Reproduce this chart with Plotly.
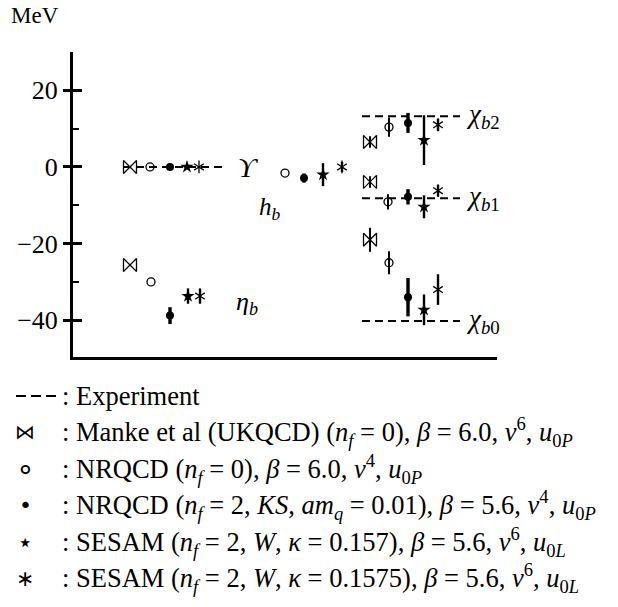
import plotly.graph_objects as go

# ---------------- data (MeV) ----------------
states = ["Upsilon", "eta_b", "h_b", "chi_b2", "chi_b1", "chi_b0"]

# horizontal slot of each point (arbitrary axis units, 0..424)
x_manke = [57, 57, None, 297, 297, 297]
x_nrqcd0 = [77, 78, 212, 316, 315, 316]
x_nrqcd2 = [97, 97, 231, 335, 335, 335]
x_sesam157 = [114, 115, 250, 351, 351, 351]
x_sesam1575 = [126, 127, 269, 365, 365, 365]

manke_y = [0, -25.6, None, 6.5, -3.9, -19.0]
manke_err = [0, 0, None, 1.5, 1.5, 3.1]
nrqcd0_y = [0, -30.0, -1.6, 10.4, -9.1, -25.0]
nrqcd0_err = [0, 0, 0, 2.5, 2.0, 3.0]
nrqcd2_y = [0, -38.8, -2.9, 11.5, -7.8, -34.0]
nrqcd2_err = [0, 2.2, 1.2, 2.6, 2.0, 5.0]
sesam157_y = [0, -33.7, -2.0, 7.0, -10.4, -37.3]
sesam157_err = [0, 2.0, 3.0, 6.5, 3.0, 4.0]
sesam1575_y = [0, -33.7, 0.0, 11.0, -6.2, -32.0]
sesam1575_err = [0, 2.0, 1.3, 1.6, 1.5, 4.0]

exp_names = ["Upsilon", "chi_b2", "chi_b1", "chi_b0"]
exp_y = [0.0, 13.2, -8.2, -40.2]
exp_x0 = [50, 289, 289, 289]
exp_x1 = [152, 387, 387, 387]

y_ticks = [-40, -20, 0, 20]
y_ticktext = ["\u221240", "\u221220", "0", "20"]
y_minor = [-30, -10, 10]

# ---------------- layout helpers ----------------
W, H = 618, 607
ML, MT = 73, 52
PW, PH = 424, 305
YR = [-49.6, 30]
FONT = "Liberation Serif"


def px(xp):
    return (xp - ML) / PW


def py(yp):
    return (MT + PH - yp) / PH


fig = go.Figure()

# experiment dashed lines
for name, v, a, b in zip(exp_names, exp_y, exp_x0, exp_x1):
    fig.add_trace(go.Scatter(x=[a, b], y=[v, v], mode="lines",
                             line=dict(color="black", width=2, dash="8px,5px"),
                             showlegend=False, hoverinfo="skip"))

series = [
    (x_manke, manke_y, manke_err, ["bowtie-open"], 13, 1.3, 2),
    (x_nrqcd0, nrqcd0_y, nrqcd0_err, ["circle-open"], 8, 1.3, 2),
    (x_nrqcd2, nrqcd2_y, nrqcd2_err, ["circle"], 8, 0, 3.4),
    (x_sesam157, sesam157_y, sesam157_err, ["star"], 10, 0, 2.4),
    (x_sesam1575, sesam1575_y, sesam1575_err, ["y-up-open", "y-down-open"], 8, 1.3, 2.4),
]
for xs, ys, es, syms, size, lw, th in series:
    for k, sym in enumerate(syms):
        fig.add_trace(go.Scatter(
            x=xs, y=ys, mode="markers",
            marker=dict(symbol=sym, size=size, color="black",
                        line=dict(color="black", width=lw)),
            error_y=dict(type="data", array=es, color="black", thickness=th, width=0,
                         visible=(k == 0)),
            showlegend=False, hoverinfo="skip"))

# invisible trace for the overlay axis (inside part of major ticks)
fig.add_trace(go.Scatter(x=[0], y=[0], yaxis="y2", mode="markers",
                         marker=dict(opacity=0), showlegend=False, hoverinfo="skip"))

fig.update_layout(
    width=W, height=H,
    margin=dict(l=ML, r=W - ML - PW, t=MT, b=H - MT - PH, pad=0),
    paper_bgcolor="white", plot_bgcolor="white",
    font=dict(family=FONT, color="black", size=22),
    xaxis=dict(range=[0, PW], showgrid=False, zeroline=False, showticklabels=False,
               ticks="", showline=True, linecolor="black", linewidth=3, fixedrange=True),
    yaxis=dict(range=YR, showgrid=False, zeroline=False, showline=True,
               linecolor="black", linewidth=3, tickvals=y_ticks, ticktext=y_ticktext,
               ticks="outside", ticklen=7, tickwidth=3, tickcolor="black",
               tickfont=dict(family=FONT, size=26),
               minor=dict(tickvals=y_minor, ticks="inside", ticklen=6, tickwidth=2,
                          tickcolor="black")),
    yaxis2=dict(range=YR, overlaying="y", showgrid=False, zeroline=False,
                showline=False, showticklabels=False, tickvals=y_ticks,
                ticks="inside", ticklen=9, tickwidth=3, tickcolor="black"),
)

ann = []
ann.append(dict(x=px(9), y=py(16), text="MeV", xanchor="left", yanchor="middle",
                font=dict(size=23)))
# state labels
ann.append(dict(x=px(236), y=py(167), text="<i>\u03d2</i>", xanchor="left", yanchor="middle",
                font=dict(size=28)))
ann.append(dict(x=px(257), y=py(208), text="<i>h</i><sub><i>b</i></sub>", xanchor="left",
                yanchor="middle", font=dict(size=25)))
ann.append(dict(x=px(234), y=py(303), text="<i>\u03b7</i><sub><i>b</i></sub>", xanchor="left",
                yanchor="middle", font=dict(size=26)))
for lab, yp in [("2", 116), ("1", 198), ("0", 321)]:
    ann.append(dict(x=px(464), y=py(yp), text="<i>\u03c7</i><sub><i>b</i>" + lab + "</sub>",
                    xanchor="left", yanchor="middle", font=dict(size=27)))

# legend
nf = "<i>n</i><sub><i>f</i></sub>"
legend_rows = [
    (396, None, ": Experiment"),
    (432, "\u22c8", ": Manke et al (UKQCD) (" + nf + " = 0), <i>\u03b2</i> = 6.0, <i>v</i><sup>6</sup>, <i>u</i><sub>0<i>P</i></sub>"),
    (469, "\u2218", ": NRQCD (" + nf + " = 0), <i>\u03b2</i> = 6.0, <i>v</i><sup>4</sup>, <i>u</i><sub>0<i>P</i></sub>"),
    (505, "\u2022", ": NRQCD (" + nf + " = 2, <i>KS</i>, <i>am</i><sub><i>q</i></sub> = 0.01), <i>\u03b2</i> = 5.6, <i>v</i><sup>4</sup>, <i>u</i><sub>0<i>P</i></sub>"),
    (542, "\u22c6", ": SESAM (" + nf + " = 2, <i>W</i>, <i>\u03ba</i> = 0.157), <i>\u03b2</i> = 5.6, <i>v</i><sup>6</sup>, <i>u</i><sub>0<i>L</i></sub>"),
    (578, "\u2217", ": SESAM (" + nf + " = 2, <i>W</i>, <i>\u03ba</i> = 0.1575), <i>\u03b2</i> = 5.6, <i>v</i><sup>6</sup>, <i>u</i><sub>0<i>L</i></sub>"),
]
sym_sizes = {"\u22c8": 20, "\u2218": 30, "\u2022": 22, "\u22c6": 26, "\u2217": 22}
for yp, sym, txt in legend_rows:
    ann.append(dict(x=px(60), y=py(yp), text=txt, xanchor="left", yanchor="middle",
                    font=dict(size=26.5)))
    if sym:
        ann.append(dict(x=px(25), y=py(yp), text=sym, xanchor="center", yanchor="middle",
                        font=dict(family="DejaVu Sans", size=sym_sizes[sym])))
for a in ann:
    a.update(xref="paper", yref="paper", showarrow=False)
fig.update_layout(annotations=ann)

fig.add_shape(type="line", xref="paper", yref="paper", x0=px(16), x1=px(56),
              y0=py(396), y1=py(396), line=dict(color="black", width=2, dash="10px,5px"))

fig.write_html("out.html")
